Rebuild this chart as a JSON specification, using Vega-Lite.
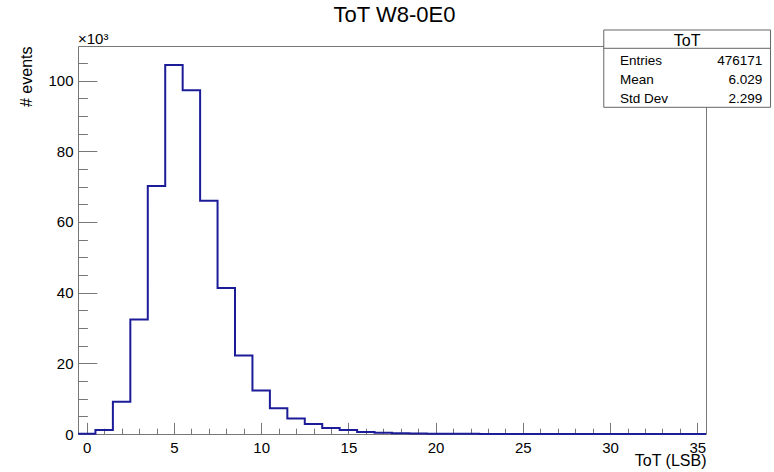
{
  "$schema": "https://vega.github.io/schema/vega-lite/v6.json",
  "width": 628,
  "height": 388,
  "autosize": {"type": "none"},
  "padding": {"left": 78, "top": 46, "right": 68, "bottom": 38},
  "background": "white",
  "config": {
    "font": "Liberation Sans",
    "view": {"stroke": "#777777", "strokeWidth": 1}
  },
  "resolve": {"axis": {"x": "independent", "y": "independent"}},
  "layer": [
    {
      "data": {
        "values": [
          {"tot": -0.5, "count": 0.05},
          {"tot": 0.5, "count": 1.1},
          {"tot": 1.5, "count": 9.1},
          {"tot": 2.5, "count": 32.4},
          {"tot": 3.5, "count": 70.2},
          {"tot": 4.5, "count": 104.4},
          {"tot": 5.5, "count": 97.3},
          {"tot": 6.5, "count": 66.0},
          {"tot": 7.5, "count": 41.3},
          {"tot": 8.5, "count": 22.2},
          {"tot": 9.5, "count": 12.3},
          {"tot": 10.5, "count": 7.3},
          {"tot": 11.5, "count": 4.4},
          {"tot": 12.5, "count": 2.8},
          {"tot": 13.5, "count": 1.7},
          {"tot": 14.5, "count": 1.1},
          {"tot": 15.5, "count": 0.6},
          {"tot": 16.5, "count": 0.37},
          {"tot": 17.5, "count": 0.22},
          {"tot": 18.5, "count": 0.13},
          {"tot": 19.5, "count": 0.1},
          {"tot": 20.5, "count": 0.05},
          {"tot": 21.5, "count": 0.04},
          {"tot": 22.5, "count": 0.03},
          {"tot": 23.5, "count": 0.03},
          {"tot": 24.5, "count": 0.02},
          {"tot": 25.5, "count": 0.01},
          {"tot": 26.5, "count": 0.01},
          {"tot": 27.5, "count": 0.01},
          {"tot": 28.5, "count": 0.01},
          {"tot": 29.5, "count": 0.01},
          {"tot": 30.5, "count": 0.01},
          {"tot": 31.5, "count": 0.01},
          {"tot": 32.5, "count": 0.01},
          {"tot": 33.5, "count": 0.01},
          {"tot": 34.5, "count": 0.01},
          {"tot": 35.5, "count": 0.01}
        ]
      },
      "mark": {"type": "line", "interpolate": "step-after", "color": "#1c1c99", "strokeWidth": 2, "clip": false},
      "encoding": {
        "x": {
          "field": "tot",
          "type": "quantitative",
          "scale": {"domain": [-0.5, 35.5], "nice": false, "zero": false},
          "axis": {
            "orient": "bottom",
            "values": [0,1,2,3,4,5,6,7,8,9,10,11,12,13,14,15,16,17,18,19,20,21,22,23,24,25,26,27,28,29,30,31,32,33,34,35],
            "labelExpr": "datum.value % 5 === 0 ? datum.label : ''",
            "tickSize": {"condition": {"test": "datum.value % 5 === 0", "value": -11.6}, "value": -5.8},
            "tickColor": "#777777",
            "tickWidth": 1,
            "domain": false,
            "grid": false,
            "labelFontSize": 15,
            "labelColor": "black",
            "labelPadding": 17.6,
            "labelOverlap": false,
            "labelFlush": false,
            "labelBound": false,
            "title": "ToT (LSB)",
            "titleFontSize": 16,
            "titleFontWeight": "normal",
            "titleColor": "black",
            "titleAlign": "right",
            "titleBaseline": "alphabetic",
            "titleX": 628,
            "titleY": 31
          }
        },
        "y": {
          "field": "count",
          "type": "quantitative",
          "scale": {"domain": [0, 109.8], "nice": false, "zero": true},
          "axis": {
            "orient": "left",
            "values": [0,5,10,15,20,25,30,35,40,45,50,55,60,65,70,75,80,85,90,95,100,105],
            "labelExpr": "datum.value % 20 === 0 ? datum.label : ''",
            "tickSize": {"condition": {"test": "datum.value % 20 === 0", "value": -18.8}, "value": -9.4},
            "tickColor": "#777777",
            "tickWidth": 1,
            "domain": false,
            "grid": false,
            "labelFontSize": 15,
            "labelColor": "black",
            "labelPadding": 23.8,
            "labelOverlap": false,
            "labelFlush": false,
            "labelBound": false,
            "title": "# events",
            "titleFontSize": 16,
            "titleFontWeight": "normal",
            "titleColor": "black",
            "titleAngle": -90,
            "titleAlign": "right",
            "titleBaseline": "alphabetic",
            "titleX": -47,
            "titleY": 0
          }
        }
      }
    },
    {
      "data": {"values": [{}]},
      "mark": {"type": "rect", "fill": "white", "stroke": "#666666", "strokeWidth": 1, "clip": false},
      "encoding": {
        "x": {"datum": 29.64, "type": "quantitative", "axis": null},
        "x2": {"datum": 39.2},
        "y": {"datum": 114.33, "type": "quantitative", "axis": null},
        "y2": {"datum": 92.45}
      }
    },
    {
      "data": {"values": [{}]},
      "mark": {"type": "rule", "color": "#666666", "strokeWidth": 1, "clip": false},
      "encoding": {
        "x": {"datum": 29.64, "type": "quantitative", "axis": null},
        "x2": {"datum": 39.2},
        "y": {"datum": 109.15, "type": "quantitative", "axis": null}
      }
    },
    {
      "data": {"values": [{}]},
      "mark": {"type": "text", "text": "ToT", "fontSize": 16, "align": "center", "baseline": "alphabetic", "color": "black", "clip": false},
      "encoding": {
        "x": {"datum": 34.42, "type": "quantitative", "axis": null},
        "y": {"datum": 109.8, "type": "quantitative", "axis": null}
      }
    },
    {
      "data": {"values": [{}]},
      "mark": {"type": "text", "text": ["Entries", "Mean", "Std Dev"], "lineHeight": 19, "fontSize": 13.5, "align": "left", "baseline": "alphabetic", "color": "black", "clip": false},
      "encoding": {
        "x": {"datum": 30.57, "type": "quantitative", "axis": null},
        "y": {"datum": 104.4, "type": "quantitative", "axis": null}
      }
    },
    {
      "data": {"values": [{}]},
      "mark": {"type": "text", "text": ["476171", "6.029", "2.299"], "lineHeight": 19, "fontSize": 13.5, "align": "right", "baseline": "alphabetic", "color": "black", "clip": false},
      "encoding": {
        "x": {"datum": 38.73, "type": "quantitative", "axis": null},
        "y": {"datum": 104.4, "type": "quantitative", "axis": null}
      }
    },
    {
      "data": {"values": [{}]},
      "mark": {"type": "text", "text": "×10³", "fontSize": 15, "align": "left", "baseline": "alphabetic", "color": "black", "clip": false},
      "encoding": {
        "x": {"datum": -0.5, "type": "quantitative", "axis": null},
        "y": {"datum": 110.4, "type": "quantitative", "axis": null}
      }
    },
    {
      "data": {"values": [{}]},
      "mark": {"type": "text", "text": "ToT W8-0E0", "fontSize": 22, "align": "center", "baseline": "alphabetic", "color": "black", "clip": false},
      "encoding": {
        "x": {"datum": 17.64, "type": "quantitative", "axis": null},
        "y": {"datum": 116.5, "type": "quantitative", "axis": null}
      }
    }
  ]
}
